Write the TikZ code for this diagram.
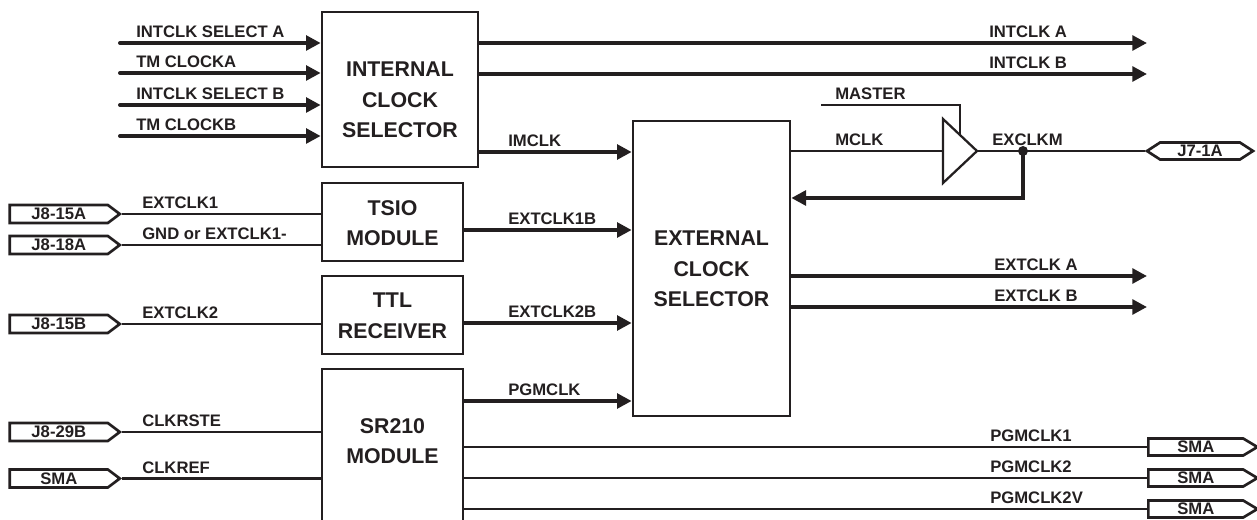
\documentclass[tikz,border=0pt]{standalone}
\usepackage{fontspec}
\setmainfont{Liberation Sans}
\usetikzlibrary{arrows.meta,shapes.symbols}
\definecolor{ink}{HTML}{231F20}
\begin{document}
\begin{tikzpicture}[x=0.75pt,y=-0.75pt,
 every node/.style={text=ink},
 thk/.style={draw=ink,line width=3pt},
 thn/.style={draw=ink,line width=1.7pt},
 arr/.style={-{Triangle[length=11pt,width=11pt]}},
 blk/.style={draw=ink,line width=2pt,inner sep=0pt},
 btxt/.style={font=\bfseries\fontsize{16}{23}\selectfont,align=center,inner sep=0pt},
 lbl/.style={font=\bfseries\fontsize{12.5}{14}\selectfont,anchor=base west,inner sep=0pt},
 conn/.style={signal,draw=ink,line width=2pt,inner sep=0pt,font=\bfseries\fontsize{12.5}{14}\selectfont},
 lconn/.style={conn,signal to=east,signal pointer angle=74,minimum width=82.5pt,minimum height=13.5pt,anchor=east},
 rconn/.style={conn,signal to=east,signal pointer angle=62,minimum width=81.75pt,minimum height=12.75pt,anchor=west},
]
\useasboundingbox (0,0) rectangle (1257,520);

% blocks
\node[blk,minimum width=156*0.75pt,minimum height=155*0.75pt] (ics) at (400,89.5) {};
\node[btxt] (icst) at (400,100) {INTERNAL\\CLOCK\\SELECTOR};
\node[blk,minimum width=141*0.75pt,minimum height=78*0.75pt] (tsio) at (392.5,222) {};
\node[btxt] (tsiot) at (392.5,223) {TSIO\\MODULE};
\node[blk,minimum width=141*0.75pt,minimum height=78*0.75pt] (ttl) at (392.5,315) {};
\node[btxt] (ttlt) at (392.5,316) {TTL\\RECEIVER};
\node[blk,minimum width=141*0.75pt,minimum height=171*0.75pt] (sr) at (392.5,454.5) {};
\node[btxt] (srt) at (392.5,441) {SR210\\MODULE};
\node[blk,minimum width=157*0.75pt,minimum height=295*0.75pt] (ecs) at (711.5,268.5) {};
\node[btxt] (ecst) at (711.5,269) {EXTERNAL\\CLOCK\\SELECTOR};

% helper coordinates
\coordinate (iA) at (120,43);
\coordinate (iB) at (120,73);
\coordinate (iC) at (120,105);
\coordinate (iD) at (120,136);
\coordinate (oA) at (1147,43);
\coordinate (oB) at (1147,74);
\coordinate (yIM) at (0,152);
\coordinate (y1B) at (0,230);
\coordinate (y2B) at (0,323);
\coordinate (yPG) at (0,401);
\coordinate (eA) at (1147,276);
\coordinate (eB) at (1147,307);
\coordinate (bufT) at (943,119);
\coordinate (bufB) at (943,183);
\coordinate (bufL) at (943,151);
\coordinate (buftip) at (977,151);
\coordinate (mst) at (821,105);
\coordinate (mstc) at (960,105);
\coordinate (mste) at (960,134);
\coordinate (fb) at (1023,198);

% inputs to internal clock selector
\draw[thk,arr,line cap=round] (iA) -- (iA -| ics.west);
\draw[thk,arr,line cap=round] (iB) -- (iB -| ics.west);
\draw[thk,arr,line cap=round] (iC) -- (iC -| ics.west);
\draw[thk,arr,line cap=round] (iD) -- (iD -| ics.west);
\node[lbl] (lA) at (136,38) {INTCLK SELECT A};
\node[lbl] (lB) at (136,68) {TM CLOCKA};
\node[lbl] (lC) at (136,100) {INTCLK SELECT B};
\node[lbl] (lD) at (136,131) {TM CLOCKB};

% outputs of internal clock selector
\draw[thk,arr] (ics.east |- oA) -- (oA);
\draw[thk,arr] (ics.east |- oB) -- (oB);
\node[lbl] (loA) at (989,38) {INTCLK A};
\node[lbl] (loB) at (989,69) {INTCLK B};

% into external clock selector
\draw[thk,arr] (ics.east |- yIM) -- (ecs.west |- yIM);
\draw[thk,arr] (tsio.east |- y1B) -- (ecs.west |- y1B);
\draw[thk,arr] (ttl.east |- y2B) -- (ecs.west |- y2B);
\draw[thk,arr] (sr.east |- yPG) -- (ecs.west |- yPG);
\node[lbl] (lIM) at (508,147) {IMCLK};
\node[lbl] (l1B) at (508,225) {EXTCLK1B};
\node[lbl] (l2B) at (508,318) {EXTCLK2B};
\node[lbl] (lPG) at (508,396) {PGMCLK};

% left connectors
\node[lconn] (j815a) at (122,214) {\raisebox{-2pt}{J8-15A}};
\node[lconn] (j818a) at (122,245) {\raisebox{-2pt}{J8-18A}};
\node[lconn] (j815b) at (122,324) {\raisebox{-2pt}{J8-15B}};
\node[lconn] (j829b) at (122,432) {\raisebox{-2pt}{J8-29B}};
\node[lconn] (smal) at (122,478.5) {\raisebox{-2pt}{SMA}};
\draw[thn] (j815a.east) -- (j815a.east -| tsio.west);
\draw[thn] (j818a.east) -- (j818a.east -| tsio.west);
\draw[thn] (j815b.east) -- (j815b.east -| ttl.west);
\draw[thn] (j829b.east) -- (j829b.east -| sr.west);
\draw[thn] (smal.east) -- (smal.east -| sr.west);
\node[lbl] (le1) at (142,208.5) {EXTCLK1};
\node[lbl] (lgnd) at (142,239.5) {GND or EXTCLK1-};
\node[lbl] (le2) at (142,318.5) {EXTCLK2};
\node[lbl] (lrst) at (142,426.5) {CLKRSTE};
\node[lbl] (lref) at (142,473) {CLKREF};

% buffer and master
\draw[thn] (ecs.east |- bufL) -- (bufL);
\draw[thn,line join=miter] (bufT) -- (buftip) -- (bufB) -- cycle;
\draw[thn] (mst) -- (mstc) -- (mste);
\node[lbl] (lmst) at (835,100) {MASTER};
\node[lbl] (lmclk) at (835,146) {MCLK};
\node[conn,signal to=west and east,signal pointer angle=66,minimum width=106*0.75pt,minimum height=12.75pt] (j7) at (1200,151) {\raisebox{-2pt}{J7-1A}};
\draw[thn] (buftip) -- (j7.west);
\node[circle,fill=ink,inner sep=0pt,minimum size=7.5pt] (dot) at (1023,151) {};
\node[lbl] (lexm) at (992,146) {EXCLKM};
\draw[thk,arr] (dot.center) -- (fb) -- (fb -| ecs.east);

% external outputs
\draw[thk,arr] (ecs.east |- eA) -- (eA);
\draw[thk,arr] (ecs.east |- eB) -- (eB);
\node[lbl] (leA) at (994,271) {EXTCLK A};
\node[lbl] (leB) at (994,302) {EXTCLK B};

% SR210 outputs
\node[rconn] (sma1) at (1147,447) {\raisebox{-2pt}{SMA}};
\node[rconn] (sma2) at (1147,478) {\raisebox{-2pt}{SMA}};
\node[rconn] (sma3) at (1147,509) {\raisebox{-2pt}{SMA}};
\draw[thn] (sr.east |- sma1.west) -- (sma1.west);
\draw[thn] (sr.east |- sma2.west) -- (sma2.west);
\draw[thn] (sr.east |- sma3.west) -- (sma3.west);
\node[lbl] (lp1) at (990,441.5) {PGMCLK1};
\node[lbl] (lp2) at (990,472.5) {PGMCLK2};
\node[lbl] (lp3) at (990,503.5) {PGMCLK2V};
\end{tikzpicture}
\end{document}
